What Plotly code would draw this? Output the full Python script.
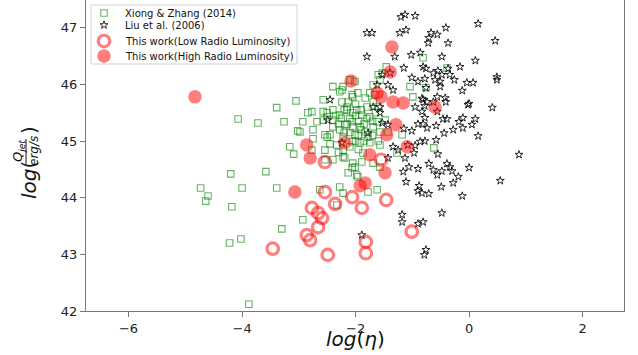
import plotly.graph_objects as go

# Xiong & Zhang (2014) - green open squares
xz_x = [-3.39,-3.05,-4.07,-3.72,-3.26,-3.02,-3.16,-3.09,-4.20,-3.58,-4.73,-4.60,-4.64,-4.00,-3.39,-4.18,-3.30,-4.02,-4.22,-3.88,-2.93,
        -2.57,-2.40,-2.22,-2.28,-2.06,-1.96,-1.69,-1.75,-1.57,-1.46,-1.53,-1.60,
        -2.77,-2.57,-2.40,-2.24,-2.13,-2.05,-1.83,-1.80,-1.69,-1.60,
        -2.93,-2.68,-2.57,-2.40,-2.28,-2.15,-1.98,-1.89,-1.75,-1.62,-1.48,
        -2.98,-2.75,-2.54,-2.45,-2.28,-2.19,-2.06,-1.92,-1.83,-1.69,-1.57,-1.43,
        -2.22,-2.01,-1.78,-2.75,
        -2.77,-2.50,-2.54,-2.54,-2.33,-2.22,-2.19,-2.06,-1.92,-1.87,-1.75,-1.57,-1.69,-1.57,-2.06,-2.13,-1.98,-2.01,-1.96,-2.28,-2.22,-1.78,-1.62,-1.27,-2.33,
        -2.84,-2.50,-2.40,-2.22,-2.05,-1.89,-2.63,-0.62,
        -0.81,-1.04,-0.76,-0.39,-0.99,-2.24,-2.01,-2.10,-1.66,-2.50,-1.18,
        -2.10,-2.00,-1.95,-2.15,-2.05,-1.90,-2.20,-2.00,-1.85,-2.10,-1.95,-2.25,-2.30,-1.90,-2.05,-1.80,-2.15,-2.35,-2.00,-1.85,
        -2.20,-1.70,-1.65,-2.40,-2.10,-1.95,-1.70,-1.60,-2.45,-2.30]
xz_y = [45.59,45.71,45.39,45.32,45.34,45.18,44.90,44.77,44.42,44.46,44.17,44.03,43.94,44.17,44.17,43.84,43.45,43.27,43.20,42.12,43.61,
        45.73,45.96,45.96,45.87,45.82,45.85,45.99,45.85,46.08,46.31,46.20,46.17,
        45.52,45.52,45.55,45.69,45.69,45.78,45.76,45.60,45.69,45.60,
        45.34,45.34,45.37,45.37,45.46,45.55,45.55,45.46,45.43,45.34,45.37,
        45.16,45.20,45.11,45.11,45.20,45.29,45.34,45.25,45.16,45.25,45.16,45.16,
        45.07,45.11,45.07,45.04,
        44.84,45.07,44.84,44.67,44.93,44.84,44.70,44.99,44.97,44.79,44.97,44.93,44.61,44.54,44.53,44.44,44.40,44.54,44.37,44.19,44.08,44.10,44.14,44.79,43.87,
        45.50,45.50,44.67,44.72,44.61,44.63,44.14,44.88,
        46.47,45.96,45.94,46.29,45.78,45.90,46.05,46.08,45.82,45.43,45.11,
        45.40,45.45,45.35,45.30,45.25,45.55,45.55,45.65,45.30,45.15,45.10,45.40,45.30,45.20,45.50,45.40,45.60,45.45,45.00,45.00,
        45.15,45.35,45.50,45.25,44.90,44.85,45.10,45.00,44.95,44.80]

# Liu et al. (2006) - black open stars
liu_x = [-1.13,-0.95,-1.20,0.16,-0.41,-1.11,-1.22,-0.67,-0.56,-0.71,-0.72,-0.37,0.46,-1.02,-0.86,-0.48,0.11,-1.15,-0.81,-0.76,
         -0.63,-0.55,-0.48,-0.37,-0.34,-0.26,-0.16,-0.60,-0.51,-1.01,-0.90,-0.78,-0.04,0.07,0.49,0.49,-0.76,-0.51,-0.12,-0.83,
         -0.74,-0.56,-0.42,-0.41,-0.78,-0.95,0.00,0.41,-0.63,
         -1.80,-1.71,-1.80,-1.31,-1.39,-1.62,-1.43,-1.34,-2.45,-1.69,-1.57,-0.81,-1.53,
         -0.83,-0.56,-0.02,-0.78,-0.46,-0.39,-0.18,-0.11,0.11,0.05,-0.11,-0.28,-0.44,-0.58,-0.74,-0.90,-0.81,-1.15,-1.01,0.16,
         -0.58,-0.78,-0.86,-0.95,-0.55,-0.97,-1.13,0.88,-1.06,-0.90,-1.16,-0.71,-0.63,-0.56,-0.48,-0.39,-0.34,-0.30,0.00,-0.19,
         -0.28,-1.11,-0.49,-0.88,-0.90,-0.83,-0.71,-0.12,0.55,-0.48,-1.18,-1.18,-0.90,-0.81,
         -2.49,-1.53,-1.43,-1.78,-2.24,-1.25,-1.08,-1.34,-1.43,-1.89,-0.76,-0.79,-1.57]
liu_y = [47.23,47.21,47.19,47.07,47.00,46.96,46.91,46.91,46.88,46.82,46.73,46.73,46.77,46.52,46.56,46.49,46.42,46.29,46.31,46.28,
         46.20,46.24,46.17,46.28,46.17,46.08,46.31,46.08,46.05,46.12,46.05,46.10,46.03,46.03,46.13,46.08,45.94,45.96,45.89,45.75,
         45.69,45.78,45.76,45.69,45.62,45.60,45.66,45.59,45.69,
         46.91,46.91,46.49,46.49,46.20,45.99,45.99,45.90,45.73,45.60,45.60,45.73,46.17,
         45.52,45.52,45.64,45.41,45.39,45.39,45.34,45.41,45.39,45.29,45.23,45.20,45.14,45.27,45.23,45.30,45.30,45.22,45.18,45.09,
         45.02,45.00,44.99,44.92,44.77,44.79,44.70,44.76,44.54,44.51,44.46,44.60,44.49,44.40,44.47,44.60,44.54,44.47,44.53,44.37,
         44.26,44.28,44.19,44.21,44.12,44.08,44.07,44.03,44.30,43.73,43.70,43.57,43.54,43.57,
         45.37,45.32,45.29,45.14,44.97,44.84,44.93,44.90,44.70,43.34,43.08,42.99,45.50]

# This work - low radio luminosity (open red circles)
low_x = [-3.46,-2.86,-2.80,-2.77,-2.66,-2.59,-2.66,-2.54,-2.49,-2.36,-2.06,-1.89,-1.82,-1.82,-1.46,-1.01,-2.54,-1.55]
low_y = [43.10,43.34,43.25,43.82,43.73,43.64,43.48,44.10,42.99,43.89,44.01,43.82,43.22,43.02,43.96,43.40,44.63,44.67]

# This work - high radio luminosity (filled red circles)
high_x = [-4.83,-1.36,-1.39,-2.08,-1.62,-1.55,-1.34,-1.16,-0.60,-2.86,-2.80,-2.19,-1.45,-1.29,-1.09,-1.75,-1.48,-1.83,-1.92,-3.07]
high_y = [45.78,46.66,46.22,46.06,45.85,45.78,45.69,45.67,45.60,44.93,44.70,44.97,45.11,45.29,44.90,44.76,44.44,44.26,44.21,44.10]

series_names = ["Xiong & Zhang (2014)", "Liu et al. (2006)",
                "This work(Low Radio Luminosity)", "This work(High Radio Luminosity)"]
x_ticks = [-6, -4, -2, 0, 2]
y_ticks = [42, 43, 44, 45, 46, 47]

FONT = "DejaVu Sans"
W, H = 638, 355
L, R, T, B = 86, 14, 0, 44
pw, ph = W - L - R, H - T - B

styles = [
    dict(symbol="square-open", size=6.5, color="rgba(0,128,0,0.6)", line=dict(width=1.1, color="rgba(0,128,0,0.6)")),
    dict(symbol="star-open", size=6, color="#111", line=dict(width=0.9, color="#111")),
    dict(symbol="circle-open", size=11.5, color="rgba(255,0,0,0.5)", line=dict(width=3.2, color="rgba(255,0,0,0.5)")),
    dict(symbol="circle", size=13.5, color="rgba(255,0,0,0.5)", line=dict(width=0)),
]

fig = go.Figure()
for (xs, ys), name, st in zip([(xz_x, xz_y), (liu_x, liu_y), (low_x, low_y), (high_x, high_y)], series_names, styles):
    fig.add_trace(go.Scatter(x=xs, y=ys, mode="markers", name=name, marker=st, showlegend=False))

# custom legend (matplotlib-like compact layout), drawn on an overlay pixel axis
leg_rows = [13, 25, 41, 56]
leg_mx, leg_tx = 104, 123
for ry, name, st in zip(leg_rows, series_names, styles):
    fig.add_trace(go.Scatter(x=[leg_mx], y=[ry], xaxis="x2", yaxis="y2", mode="markers",
                             marker=st, showlegend=False, hoverinfo="skip"))

annots = []
for ry, name in zip(leg_rows, series_names):
    annots.append(dict(text=name, x=leg_tx, y=ry, xref="x2", yref="y2", showarrow=False,
                       xanchor="left", yanchor="middle", font=dict(family=FONT, size=10, color="#111")))

def px2paper(px, py):
    return (px - L) / pw, (H - B - py) / ph

ax, ay = px2paper(355, 339)
annots.append(dict(text="<i>log</i>(<i>η</i>)", x=ax, y=ay, xref="paper", yref="paper",
                   showarrow=False, xanchor="center", yanchor="middle",
                   font=dict(family=FONT, size=20, color="#111")))
for txt, px, py, sz in [("<i>log</i>(", 29, 180, 20), (")", 29, 130, 20),
                        ("<i>Q<sub>jet</sub></i>", 18, 151, 13), ("<i>erg/s</i>", 34, 151, 12)]:
    qx, qy = px2paper(px, py)
    annots.append(dict(text=txt, x=qx, y=qy, xref="paper", yref="paper", textangle=-90,
                       showarrow=False, xanchor="center", yanchor="middle",
                       font=dict(family=FONT, size=sz, color="#111")))
lx, ly0 = px2paper(26, 164)
_, ly1 = px2paper(26, 139)

shapes = [
    dict(type="rect", xref="x2", yref="y2", x0=91, x1=297, y0=5, y1=64,
         line=dict(color="#d0d0d0", width=1), fillcolor="rgba(255,255,255,0.8)", layer="below"),
    dict(type="line", xref="paper", yref="paper", x0=lx, x1=lx, y0=ly0, y1=ly1,
         line=dict(color="#111", width=1)),
]

fig.update_layout(
    width=W, height=H, margin=dict(l=L, r=R, t=T, b=B, autoexpand=False),
    paper_bgcolor="white", plot_bgcolor="white",
    font=dict(family=FONT, size=13, color="#222"),
    xaxis=dict(range=[-6.75, 2.73], tickvals=x_ticks, showgrid=False, zeroline=False,
               showline=True, linecolor="#777", linewidth=1, mirror=False,
               ticks="outside", ticklen=5, tickcolor="#777", tickfont=dict(size=13, color="#222")),
    yaxis=dict(range=[42, 47.49], tickvals=y_ticks, showgrid=False, zeroline=False,
               showline=True, linecolor="#777", linewidth=1, mirror=True,
               ticks="outside", ticklen=5, tickcolor="#777", tickfont=dict(size=13, color="#222")),
    xaxis2=dict(overlaying="x", range=[L, W - R], visible=False, fixedrange=True),
    yaxis2=dict(overlaying="y", range=[H - B, T], visible=False, fixedrange=True),
    annotations=annots,
    shapes=shapes,
    showlegend=False,
)

fig.write_html("out.html", config={"displayModeBar": False},
               post_script="document.body.style.margin='0';")
